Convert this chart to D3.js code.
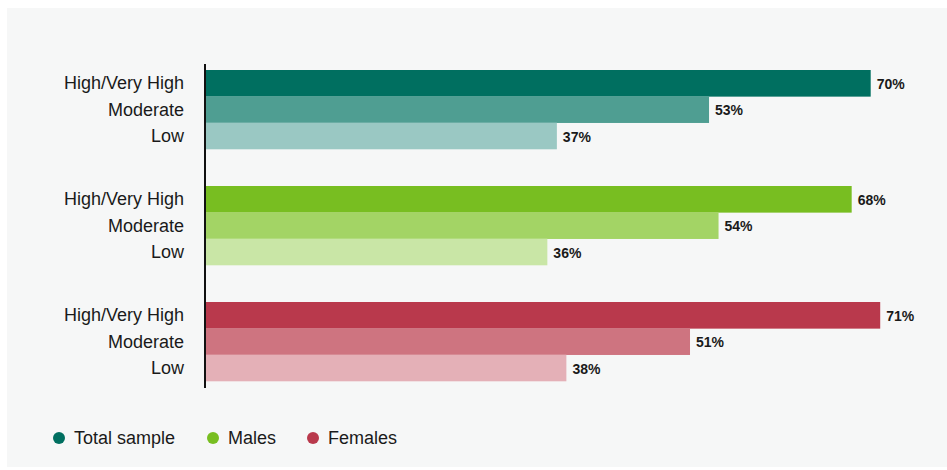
<!DOCTYPE html>
<html><head><meta charset="utf-8">
<script src="https://cdn.jsdelivr.net/npm/d3@7"></script>
<style>body{margin:0;background:#fff;}svg{display:block;font-family:"Liberation Sans",Arial,sans-serif;}</style>
</head><body>
<svg id="chart" width="947" height="470"></svg>
<script>
const groups = ["Total sample", "Males", "Females"];
const levels = ["High/Very High", "Moderate", "Low"];
const totalValues = [70, 53, 37];
const maleValues = [68, 54, 36];
const femaleValues = [71, 51, 38];
const groupColors = ["#006f60", "#78be21", "#b9394c"];
const shadeColors = [
  ["#006f60", "#4f9e92", "#9ac8c3"],
  ["#78be21", "#a3d465", "#c9e6a6"],
  ["#b9394c", "#ce7480", "#e4b0b7"]
];

const seriesValues = [totalValues, maleValues, femaleValues];
const rows = [];
groups.forEach((g, gi) => levels.forEach((l, li) => rows.push({g, gi, l, li, v: seriesValues[gi][li]})));

const svg = d3.select("#chart");
svg.append("rect").attr("x", 7).attr("y", 8).attr("width", 940).attr("height", 459).attr("fill", "#f6f7f7");

const x = d3.scaleLinear().domain([0, 100]).range([205, 1156]);
const gy = d3.scaleBand().domain(groups).range([70, 381]).paddingInner(0.319).paddingOuter(0);
const ly = d3.scaleBand().domain(levels).range([0, gy.bandwidth()]);

const g = svg.append("g");
g.selectAll("rect.bar").data(rows).join("rect")
  .attr("class", "bar")
  .attr("x", x(0))
  .attr("y", d => gy(d.g) + ly(d.l))
  .attr("width", d => x(d.v) - x(0))
  .attr("height", ly.bandwidth() + 0.3)
  .attr("fill", d => shadeColors[d.gi][d.li]);

g.selectAll("text.lab").data(rows).join("text")
  .attr("class", "lab")
  .attr("x", 184)
  .attr("y", d => gy(d.g) + ly(d.l) + ly.bandwidth() / 2)
  .attr("dy", "0.35em")
  .attr("text-anchor", "end")
  .attr("font-size", 18)
  .attr("fill", "#1a1a1a")
  .text(d => d.l);

g.selectAll("text.val").data(rows).join("text")
  .attr("class", "val")
  .attr("x", d => x(d.v) + 6)
  .attr("y", d => gy(d.g) + ly(d.l) + ly.bandwidth() / 2 + 1)
  .attr("dy", "0.35em")
  .attr("font-size", 14)
  .attr("font-weight", "bold")
  .attr("fill", "#1a1a1a")
  .text(d => d.v + "%");

svg.append("line").attr("x1", x(0)).attr("x2", x(0)).attr("y1", 64).attr("y2", 388)
  .attr("stroke", "#111").attr("stroke-width", 2);

const legendX = [59, 213, 313];
const lg = svg.append("g").selectAll("g").data(groups).join("g")
  .attr("transform", (d, i) => `translate(${legendX[i]},438)`);
lg.append("circle").attr("r", 6).attr("fill", (d, i) => groupColors[i]);
lg.append("text").attr("x", 15).attr("dy", "0.35em").attr("font-size", 18).attr("fill", "#1a1a1a").text(d => d);
</script>
</body></html>
